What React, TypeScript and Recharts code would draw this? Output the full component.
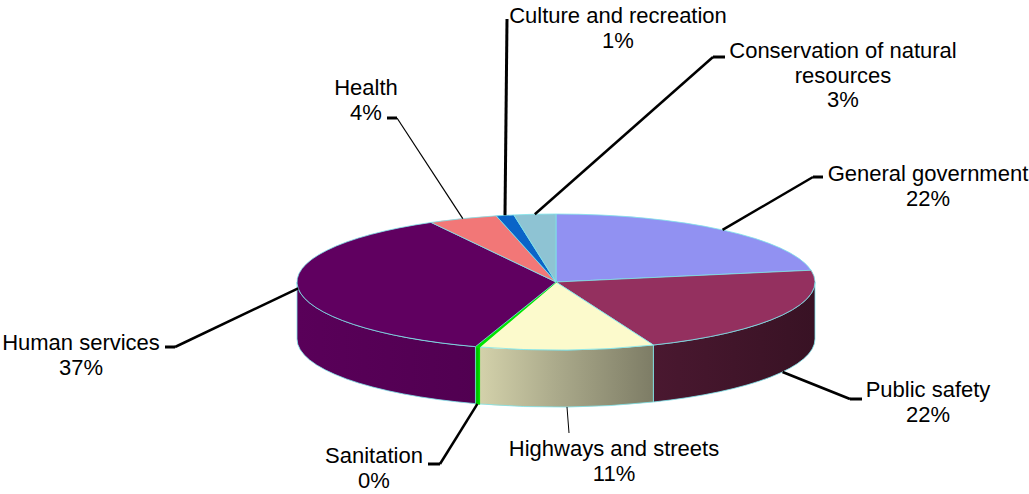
import { PieChart, Pie, Cell } from "recharts";

const categories = [
  "General government",
  "Public safety",
  "Highways and streets",
  "Sanitation",
  "Human services",
  "Health",
  "Culture and recreation",
  "Conservation of natural resources",
];
const shares = [22.2, 21.6, 10.9, 0.25, 36.9, 4.3, 1.1, 2.6];

const sliceColors = [
  "#9191F2",
  "#94305F",
  "#FCFACC",
  "#00E400",
  "#600060",
  "#F27777",
  "#0A64C8",
  "#8EC3D3",
];
const edgeColors = ["#7FE3EA", "#7FE3EA", "#7FE3EA", "#00E400", "#7FE3EA", "#7FE3EA", "#7FE3EA", "#7FE3EA"];

// label text placement (center x, first baseline) and leader line bends
const labelLayout = [
  { tx: 928, ty: 181, path: [[813, 177]], nub: [823, 177], w: 2.5 },
  { tx: 928, ty: 397, path: [[850, 399]], nub: [862, 399], w: 2.8 },
  { tx: 614, ty: 456, path: [[569, 433]], nub: null, w: 1 },
  { tx: 374, ty: 463, path: [[440, 464]], nub: [428, 464], w: 2.5 },
  { tx: 81, ty: 350, path: [[175, 347]], nub: [165, 347], w: 2.5 },
  { tx: 366, ty: 95, path: [[397, 118]], nub: [387, 118], w: 1.2 },
  { tx: 618, ty: 23, path: [[507, 19]], nub: null, w: 3 },
  { tx: 843, ty: 58, path: [[713, 57]], nub: [725, 57], w: 2.5 },
];

const data = categories.map((name, i) => ({ name, value: shares[i] }));

const TILT = 68 / 259;
const DEPTH = 57;
const RAD = Math.PI / 180;
const FONT = "'Liberation Sans', Arial, sans-serif";

const pt = (cx: number, cy: number, rx: number, ry: number, deg: number) => [
  cx + rx * Math.cos(deg * RAD),
  cy - ry * Math.sin(deg * RAD),
];

const shade = (hex: string, f: number) => {
  const n = parseInt(hex.slice(1), 16);
  const r = Math.round(((n >> 16) & 255) * f);
  const g = Math.round(((n >> 8) & 255) * f);
  const b = Math.round((n & 255) * f);
  return `rgb(${r},${g},${b})`;
};

// darker toward the right of the wall
const sideStops = [
  [0, 0.93],
  [0.35, 0.84],
  [0.5, 0.68],
  [0.685, 0.5],
  [1, 0.38],
];

const Slice3D = (props: any) => {
  const { cx, cy, outerRadius, startAngle, endAngle, fill } = props;
  const i = categories.indexOf(props.name ?? props.payload?.name);
  const rx = outerRadius;
  const ry = outerRadius * TILT;
  const hi = Math.max(startAngle, endAngle);
  const lo = Math.min(startAngle, endAngle);
  const [x1, y1] = pt(cx, cy, rx, ry, hi);
  const [x2, y2] = pt(cx, cy, rx, ry, lo);
  const large = hi - lo > 180 ? 1 : 0;
  const top = `M${cx},${cy} L${x1},${y1} A${rx},${ry} 0 ${large} 1 ${x2},${y2} Z`;
  const edge = edgeColors[i] ?? "#7FE3EA";

  const sHi = Math.min(hi, 0);
  const sLo = Math.max(lo, -180);
  let side = null;
  const gid = `side-${i}`;
  if (sHi > sLo) {
    const [a1, b1] = pt(cx, cy, rx, ry, sHi);
    const [a2, b2] = pt(cx, cy, rx, ry, sLo);
    const l2 = sHi - sLo > 180 ? 1 : 0;
    side = `M${a1},${b1} A${rx},${ry} 0 ${l2} 1 ${a2},${b2} L${a2},${b2 + DEPTH} A${rx},${ry} 0 ${l2} 0 ${a1},${b1 + DEPTH} Z`;
  }

  return (
    <g>
      {side && (
        <>
          <defs>
            <linearGradient id={gid} gradientUnits="userSpaceOnUse" x1={cx - rx} x2={cx + rx} y1={0} y2={0}>
              {sideStops.map(([o, f]) => (
                <stop key={o} offset={o} stopColor={shade(fill, f)} />
              ))}
            </linearGradient>
          </defs>
          <path d={side} fill={`url(#${gid})`} stroke={edge} strokeWidth={i === 3 ? 1.5 : 0.8} />
        </>
      )}
      <path d={top} fill={fill} stroke={edge} strokeWidth={i === 3 ? 1.5 : 0.8} strokeLinejoin="round" />
    </g>
  );
};

const wrap = (text: string, max: number) => {
  const lines: string[] = [];
  let cur = "";
  text.split(" ").forEach((w) => {
    const next = cur ? `${cur} ${w}` : w;
    if (next.length > max && cur) {
      lines.push(cur);
      cur = w;
    } else cur = next;
  });
  if (cur) lines.push(cur);
  return lines;
};

const renderLabel = (props: any) => {
  const { cx, cy, midAngle, outerRadius, percent, index } = props;
  const lay = labelLayout[index];
  const rx = outerRadius;
  const ry = outerRadius * TILT;
  const [ax, ay0] = pt(cx, cy, rx, ry, midAngle);
  const ay = -Math.sin(midAngle * RAD) > 0.3 ? ay0 + DEPTH : ay0;
  const pts = [[ax, ay], ...lay.path];
  const lines = [...wrap(categories[index], 24), `${Math.round(percent * 100)}%`];
  const last = lay.path[lay.path.length - 1];
  return (
    <g>
      <polyline
        points={pts.map((p) => p.join(",")).join(" ")}
        fill="none"
        stroke="#000"
        strokeWidth={lay.w}
      />
      {lay.nub && (
        <line x1={last[0]} y1={last[1]} x2={lay.nub[0]} y2={lay.nub[1]} stroke="#000" strokeWidth={3} />
      )}
      {lines.map((t, k) => (
        <text
          key={k}
          x={lay.tx}
          y={lay.ty + k * 24.5}
          textAnchor="middle"
          fontSize={22}
          fontFamily={FONT}
          fill="#000"
        >
          {t}
        </text>
      ))}
    </g>
  );
};

export default function App() {
  return (
    <div style={{ position: "absolute", left: 0, top: 0, width: 1029, height: 494, background: "#fff" }}>
      <PieChart width={1029} height={494} margin={{ top: 0, right: 0, bottom: 0, left: 0 }}>
        <Pie
          data={data}
          dataKey="value"
          nameKey="name"
          cx={556}
          cy={282}
          outerRadius={259}
          startAngle={90}
          endAngle={-270}
          isAnimationActive={false}
          shape={Slice3D}
          activeShape={Slice3D}
          inactiveShape={Slice3D}
          label={renderLabel}
          labelLine={false}
        >
          {data.map((d, i) => (
            <Cell key={d.name} fill={sliceColors[i]} />
          ))}
        </Pie>
      </PieChart>
    </div>
  );
}
